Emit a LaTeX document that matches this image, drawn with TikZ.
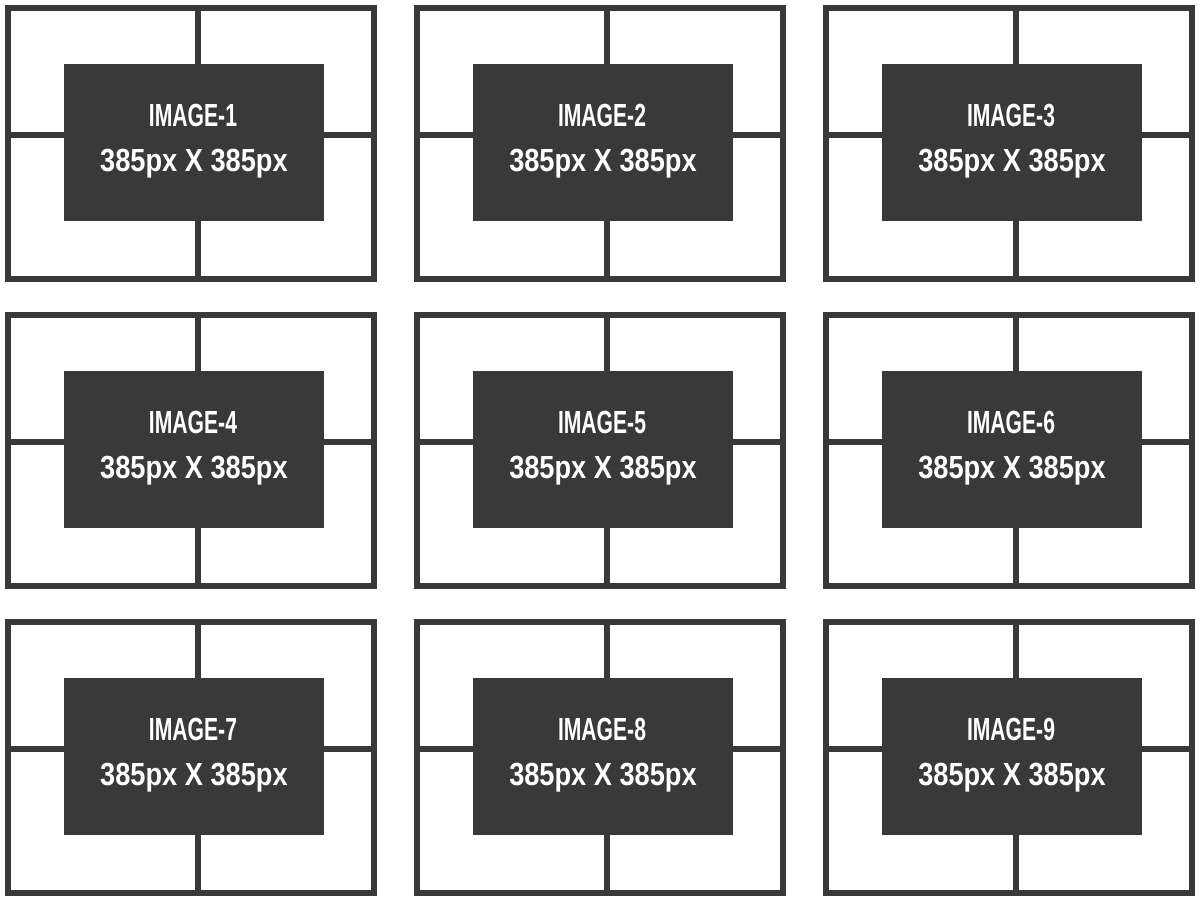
\documentclass[tikz,border=0pt]{standalone}
\usepackage{fontspec}
\newfontfamily\condfont{Liberation Sans Bold}
\definecolor{dk}{HTML}{393939}
\tikzset{
  frame/.style={draw=dk, line width=6pt},
  darkbox/.style={fill=dk},
  lbl/.style={anchor=base, inner sep=0pt, text=white, font=\condfont\fontsize{32}{32}\selectfont}
}
\begin{document}
\begin{tikzpicture}[x=1pt,y=-1pt]
\useasboundingbox (0,0) rectangle (1200,903);
\fill[white] (0,0) rectangle (1200,903);
\foreach \r in {0,1,2}{
  \foreach \c in {0,1,2}{
    \pgfmathtruncatemacro\n{3*\r+\c+1}
    \begin{scope}[shift={(409*\c,307*\r)}]
      \draw[frame] (8,8) rectangle (374,279);
      \draw[frame] (198,8) -- (198,279);
      \draw[frame] (8,135) -- (374,135);
      \fill[darkbox] (64,64) rectangle (324,221);
      \node[lbl] (a\n) at (193,126.7) {\scalebox{0.66}[1]{IMAGE-\n}};
      \node[lbl] (b\n) at (194,171.7) {\scalebox{0.85}[1]{385px X 385px}};
    \end{scope}
  }
}
\end{tikzpicture}
\end{document}
